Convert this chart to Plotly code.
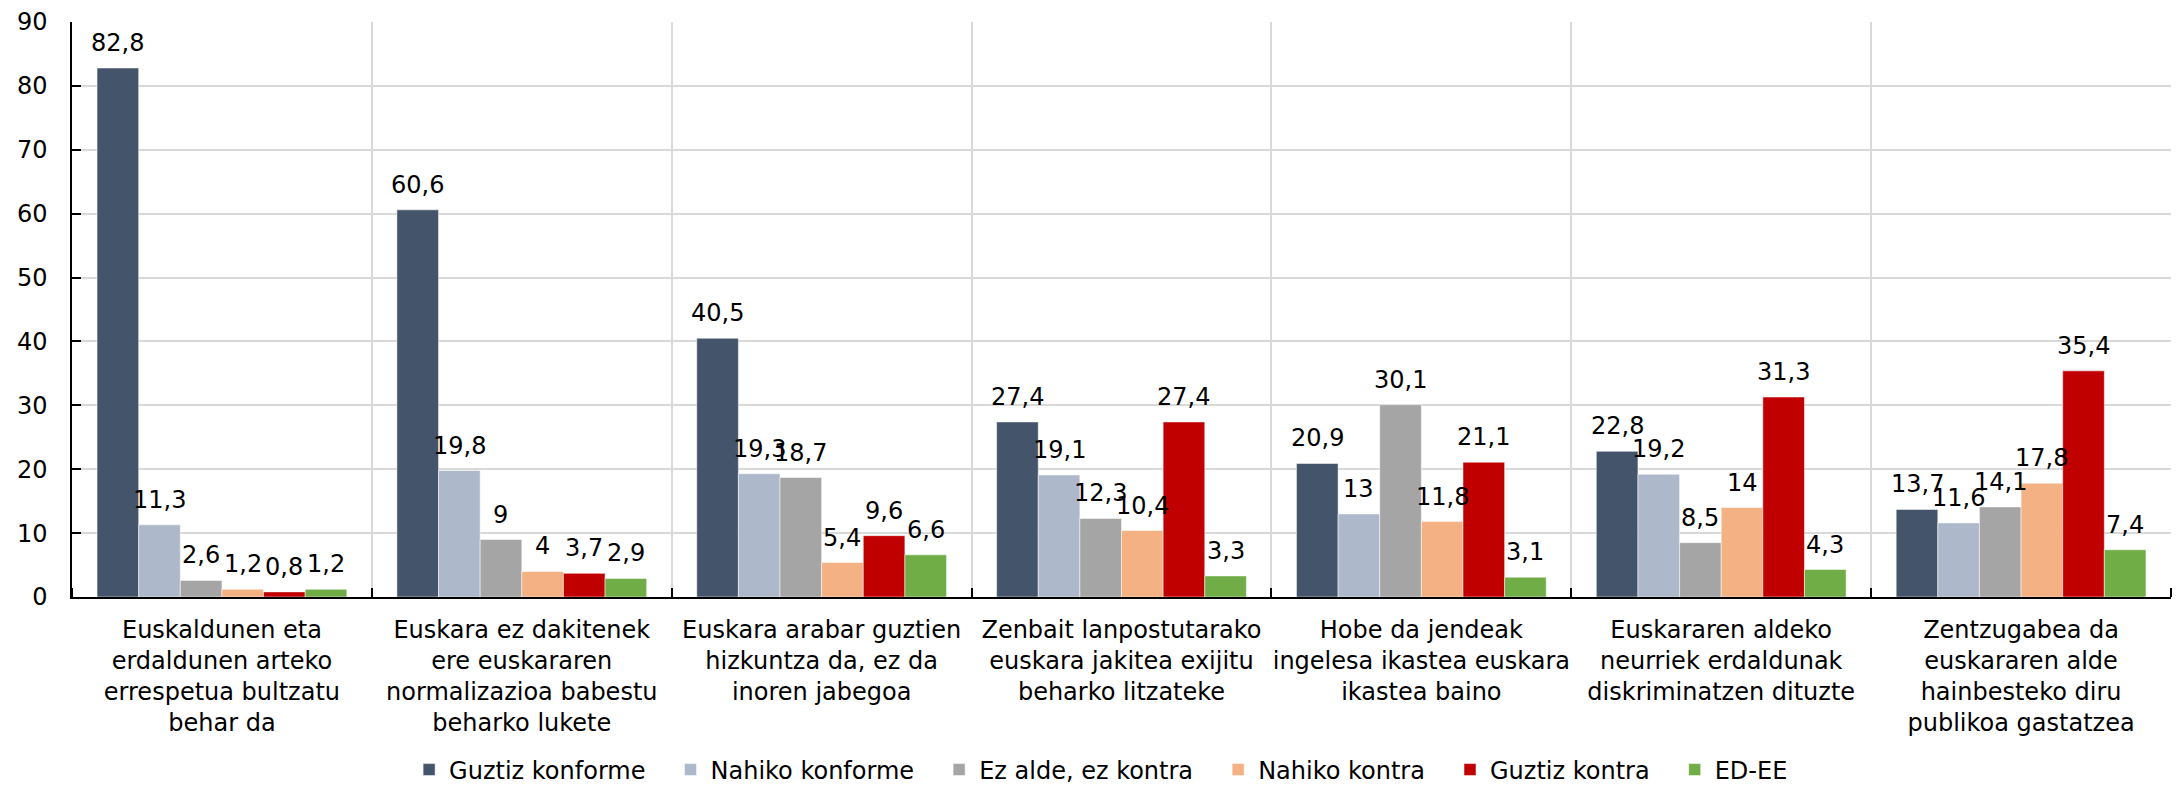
import plotly.graph_objects as go

categories = [
    "Euskaldunen eta<br>erdaldunen arteko<br>errespetua bultzatu<br>behar da",
    "Euskara ez dakitenek<br>ere euskararen<br>normalizazioa babestu<br>beharko lukete",
    "Euskara arabar guztien<br>hizkuntza da, ez da<br>inoren jabegoa",
    "Zenbait lanpostutarako<br>euskara jakitea exijitu<br>beharko litzateke",
    "Hobe da jendeak<br>ingelesa ikastea euskara<br>ikastea baino",
    "Euskararen aldeko<br>neurriek erdaldunak<br>diskriminatzen dituzte",
    "Zentzugabea da<br>euskararen alde<br>hainbesteko diru<br>publikoa gastatzea",
]

series_names = ["Guztiz konforme", "Nahiko konforme", "Ez alde, ez kontra",
                "Nahiko kontra", "Guztiz kontra", "ED-EE"]

guztiz_konforme = [82.8, 60.6, 40.5, 27.4, 20.9, 22.8, 13.7]
nahiko_konforme = [11.3, 19.8, 19.3, 19.1, 13.0, 19.2, 11.6]
ez_alde_ez_kontra = [2.6, 9.0, 18.7, 12.3, 30.1, 8.5, 14.1]
nahiko_kontra = [1.2, 4.0, 5.4, 10.4, 11.8, 14.0, 17.8]
guztiz_kontra = [0.8, 3.7, 9.6, 27.4, 21.1, 31.3, 35.4]
ed_ee = [1.2, 2.9, 6.6, 3.3, 3.1, 4.3, 7.4]

series_values = [guztiz_konforme, nahiko_konforme, ez_alde_ez_kontra,
                 nahiko_kontra, guztiz_kontra, ed_ee]
colors = ["#44546a", "#adb9ca", "#a5a5a5", "#f4b183", "#c00000", "#70ad47"]

FONT = "DejaVu Sans"
FS = 24
BARGAP = 0.167
ENTRY_PAD = "\u00a0\u00a0\u2009"


def fmt(v):
    return str(int(v)) if float(v).is_integer() else f"{v:.1f}".replace(".", ",")


xpos = list(range(len(categories)))
n = len(series_values)
bar_w = (1 - BARGAP) / n

fig = go.Figure()
annotations = []
for j, (name, vals, col) in enumerate(zip(series_names, series_values, colors)):
    # trailing spaces widen the gap between legend entries
    legend_name = name + (ENTRY_PAD if j < n - 1 else "")
    fig.add_trace(go.Bar(
        x=xpos, y=vals, name=legend_name,
        marker=dict(color=col, line=dict(color="rgba(255,255,255,0.5)", width=1)),
        hoverinfo="skip",
    ))
    off = (j - (n - 1) / 2) * bar_w
    for i, v in zip(xpos, vals):
        annotations.append(dict(
            x=i + off, y=v, xref="x", yref="y", text=fmt(v), showarrow=False,
            yanchor="bottom", xanchor="center", yshift=9,
            font=dict(family=FONT, size=FS, color="#000000"),
        ))

fig.update_layout(
    width=2178, height=793,
    margin=dict(l=72, r=7, t=22, b=196),
    paper_bgcolor="white", plot_bgcolor="white",
    barmode="group", bargap=BARGAP, bargroupgap=0,
    font=dict(family=FONT, size=FS, color="#000000"),
    annotations=annotations,
    showlegend=True,
    legend=dict(
        orientation="h", x=0.1606, xanchor="left",
        yref="container", y=0.029, yanchor="middle",
        font=dict(family=FONT, size=FS, color="#000000"),
        itemwidth=30, tracegroupgap=0,
    ),
)

fig.update_xaxes(
    range=[-0.5, len(categories) - 0.5],
    tickmode="array", tickvals=xpos, ticktext=categories,
    ticks="", showgrid=False, zeroline=False,
    showline=True, linecolor="#000000", linewidth=1.5,
    ticklabelstandoff=10,
    minor=dict(
        tickmode="array",
        tickvals=[i + 0.5 for i in range(-1, len(categories))],
        ticks="inside", ticklen=9, tickwidth=1.5, tickcolor="#000000",
        showgrid=True, gridcolor="#d9d9d9", gridwidth=1.5,
    ),
)

fig.update_yaxes(
    range=[0, 90], dtick=10, tick0=0,
    ticks="inside", ticklen=9, tickwidth=1.5, tickcolor="#000000",
    showline=True, linecolor="#000000", linewidth=1.5,
    showgrid=True, gridcolor="#d9d9d9", gridwidth=1.5,
    zeroline=False, ticklabelstandoff=18,
)

fig.write_html("out.html")
